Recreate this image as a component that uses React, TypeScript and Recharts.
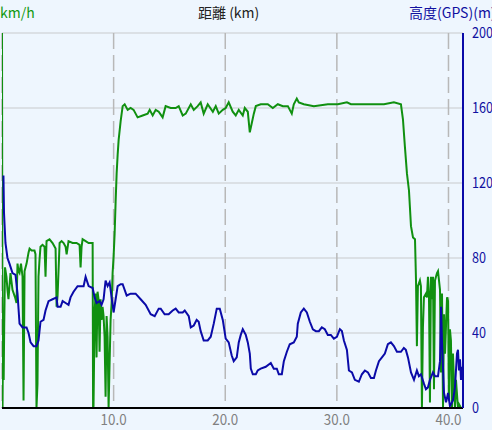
import { CartesianGrid, Line, LineChart, XAxis, YAxis } from 'recharts';

// distance (km) / speed (km/h)
const speedKm = [
  0.0, 0.05, 0.1, 0.15, 0.2, 0.27, 0.4, 0.49, 0.58, 0.76, 0.94, 1.17, 1.3, 1.39, 1.48, 1.57, 1.7, 1.84,
  1.93, 2.02, 2.2, 2.38, 2.47, 2.65, 2.91, 3.0, 3.09, 3.18, 3.27, 3.36, 3.45, 3.63, 3.81, 3.9, 3.99, 4.26,
  4.53, 4.8, 4.89, 4.98, 5.16, 5.34, 5.52, 5.7, 5.79, 5.96, 6.32, 6.68, 6.95, 7.04, 7.13, 7.22, 7.49, 7.76,
  8.12, 8.16, 8.2, 8.3, 8.39, 8.47, 8.56, 8.65, 8.74, 8.83, 8.92, 9.01, 9.1, 9.19, 9.28, 9.37, 9.46, 9.55,
  9.64, 9.73, 9.82, 9.91, 10.0, 10.09, 10.18, 10.27, 10.36, 10.45, 10.63, 10.81, 10.99, 11.26, 11.52, 11.79,
  12.15, 12.6, 13.05, 13.23, 13.5, 13.77, 14.04, 14.39, 14.66, 15.11, 15.56, 15.83, 16.19, 16.46, 16.91,
  17.18, 17.53, 17.8, 18.07, 18.43, 18.89, 19.15, 19.42, 19.78, 20.04, 20.31, 20.67, 20.94, 21.21, 21.57,
  21.75, 22.02, 22.2, 22.38, 22.56, 22.74, 23.18, 23.81, 24.26, 24.71, 25.16, 25.61, 25.96, 26.14, 26.41,
  26.59, 27.04, 27.94, 29.19, 30.09, 30.9, 31.26, 32.78, 34.22, 35.11, 35.74, 35.92, 36.1, 36.28, 36.46,
  36.64, 36.82, 37.0, 37.09, 37.17, 37.26, 37.44, 37.53, 37.62, 37.71, 37.8, 37.98, 38.07, 38.16, 38.25,
  38.34, 38.43, 38.52, 38.61, 38.7, 38.79, 38.97, 39.06, 39.15, 39.24, 39.33, 39.42, 39.51, 39.6, 39.69,
  39.87, 39.96, 40.04, 40.13, 40.22, 40.31, 40.4, 40.58, 40.67, 40.85, 40.94, 41.12,
];
const speed = [
  200, 0, 50, 15, 45, 75, 70, 63, 58, 72, 63, 59, 56, 77, 73, 72, 77, 70,
  4, 73, 77, 83, 85, 84, 84, 82, 0, 13, 70, 79, 86, 87, 86, 70, 89, 90,
  88, 85, 54, 60, 88, 89, 88, 86, 82, 89, 88, 88, 87, 75, 86, 90, 89, 88,
  88, 0, 1, 52, 61, 27, 62, 58, 30, 58, 47, 54, 49, 38, 6, 49, 38, 0,
  24, 47, 56, 72, 81, 93, 110, 125, 135, 143, 153, 161, 162, 159, 160, 159,
  155, 156, 157, 159, 156, 159, 158, 155, 161, 160, 160, 161, 156, 157, 162,
  159, 161, 163, 157, 162, 158, 161, 157, 159, 160, 163, 158, 156, 159, 156,
  160, 158, 147, 152, 157, 161, 162, 162, 160, 162, 161, 161, 157, 162, 165,
  163, 162, 161, 162, 162, 163, 162, 162, 162, 163, 162, 154, 139, 125, 116,
  97, 91, 90, 68, 33, 65, 68, 65, 0, 43, 59, 61, 59, 70, 61,
  3, 70, 58, 70, 10, 68, 72, 73, 68, 63, 19, 61, 0, 50, 29,
  59, 57, 4, 42, 36, 0, 29, 0, 15, 0, 2, 0,
];

// distance (km) / GPS altitude (m)
const altKm = [
  0.13, 0.18, 0.31, 0.49, 0.67, 0.94, 1.21, 1.39, 1.57, 1.84, 2.2, 2.38, 2.56, 2.83, 3.09, 3.27, 3.45, 3.72,
  3.9, 4.17, 4.53, 4.89, 4.98, 5.25, 5.43, 5.7, 5.96, 6.14, 6.41, 6.77, 7.04, 7.31, 7.49, 7.76, 8.12, 8.3,
  8.47, 8.74, 8.92, 9.1, 9.28, 9.46, 9.64, 9.82, 10.0, 10.18, 10.36, 10.63, 10.81, 11.17, 11.52, 11.97,
  12.42, 12.87, 13.32, 13.68, 14.04, 14.22, 14.57, 14.93, 15.29, 15.56, 15.83, 16.19, 16.37, 16.73, 16.91,
  17.18, 17.44, 17.62, 17.8, 18.07, 18.43, 18.7, 18.97, 19.24, 19.51, 19.78, 20.04, 20.31, 20.58, 20.76,
  21.03, 21.21, 21.39, 21.57, 21.84, 22.02, 22.2, 22.29, 22.47, 22.74, 22.91, 23.18, 23.63, 24.08, 24.35,
  24.62, 24.8, 25.07, 25.25, 25.52, 25.78, 26.14, 26.41, 26.5, 26.77, 27.04, 27.31, 27.58, 27.85, 28.12,
  28.39, 28.65, 28.92, 29.19, 29.46, 29.73, 30.0, 30.27, 30.45, 30.63, 30.9, 31.08, 31.35, 31.61, 31.97,
  32.24, 32.51, 32.78, 33.05, 33.32, 33.5, 33.77, 34.04, 34.3, 34.57, 34.84, 35.11, 35.38, 35.74, 36.0,
  36.18, 36.37, 36.64, 36.91, 37.17, 37.35, 37.53, 37.8, 37.98, 38.16, 38.34, 38.61, 38.79, 39.06, 39.24,
  39.33, 39.42, 39.6, 39.78, 39.96, 40.13, 40.4, 40.58, 40.76, 40.85, 40.94, 41.03, 41.12, 41.2,
];
const alt = [
  124, 104, 88, 80, 77, 72, 71, 61, 45, 43, 43, 40, 35, 33, 33, 36, 46, 47,
  52, 57, 58, 59, 54, 54, 57, 56, 55, 59, 62, 65, 65, 65, 70, 65, 64, 59,
  56, 57, 55, 58, 68, 65, 67, 59, 51, 58, 65, 66, 66, 60, 61, 61,
  58, 55, 50, 49, 53, 53, 50, 50, 52, 53, 51, 51, 52, 49, 43,
  44, 47, 46, 41, 36, 36, 38, 45, 53, 53, 47, 37, 35, 28, 25,
  27, 35, 39, 42, 39, 35, 29, 21, 18, 18, 20, 21, 22, 24, 21,
  21, 18, 18, 25, 30, 34, 35, 38, 45, 51, 53, 51, 46, 42, 41,
  41, 43, 42, 39, 39, 37, 38, 42, 41, 36, 31, 20, 19, 15, 14,
  18, 20, 19, 16, 16, 20, 25, 27, 29, 34, 35, 33, 30, 30, 32,
  31, 27, 19, 15, 20, 17, 18, 13, 10, 11, 15, 19, 17, 17, 25,
  54, 35, 8, 3, 8, 1, 4, 11, 29, 31, 20, 26, 15, 22,
];

const xTicks = [10, 20, 30, 40];
const yTicks = [0, 40, 80, 120, 160, 200];

const speedData = speedKm.map((km, i) => ({ km, speed: speed[i] }));
const altData = altKm.map((km, i) => ({ km, alt: alt[i] }));

const font = '"Noto Sans CJK JP", "DejaVu Sans", sans-serif';

// narrow, tall digits like the original bitmap font
function AltTick(props: any) {
  const { x, y, payload } = props;
  const label = String(payload.value);
  return (
    <text
      x={x + 3}
      y={y + 5}
      fill="#1010A0"
      fontSize={15}
      fontFamily={font}
      textLength={label.length * 7}
      lengthAdjust="spacingAndGlyphs"
    >
      {label}
    </text>
  );
}

function KmTick(props: any) {
  const { x, y, payload } = props;
  const label = Number(payload.value).toFixed(1);
  return (
    <text
      x={x - 13}
      y={y + 11}
      fill="#808080"
      fontSize={15}
      fontFamily={font}
      textLength={26}
      lengthAdjust="spacingAndGlyphs"
    >
      {label}
    </text>
  );
}

export default function App() {
  return (
    <div
      style={{
        position: 'absolute',
        left: 0,
        top: 0,
        width: 492,
        height: 430,
        overflow: 'hidden',
        background: '#EEF6FE',
        fontFamily: font,
      }}
    >
      <div style={{ position: 'absolute', left: 0, top: 2, fontSize: 14, lineHeight: '20px', color: '#119911' }}>km/h</div>
      <div style={{ position: 'absolute', left: 198, top: 2, fontSize: 14, lineHeight: '20px', color: '#222' }}>距離 (km)</div>
      <div
        style={{
          position: 'absolute',
          left: 409,
          top: 2,
          width: 83,
          overflow: 'hidden',
          fontSize: 14,
          lineHeight: '20px',
          color: '#1010A0',
          whiteSpace: 'nowrap',
        }}
      >
        高度(GPS)(m)
      </div>
      <LineChart width={492} height={430} margin={{ top: 33, right: 0, left: 2, bottom: 0 }}>
        <CartesianGrid yAxisId="alt" vertical={false} stroke="#D4D8DC" strokeWidth={1.5} />
        <CartesianGrid yAxisId="alt" horizontal={false} stroke="#B8B8B8" strokeWidth={1.5} strokeDasharray="16 6" />
        <XAxis
          type="number"
          dataKey="km"
          domain={[0, 41.3]}
          ticks={xTicks}
          allowDataOverflow
          height={22}
          tickLine={false}
          axisLine={{ stroke: '#000', strokeWidth: 2 }}
          tick={KmTick}
          tickMargin={0}
        />
        <YAxis yAxisId="speed" domain={[0, 200]} hide />
        <YAxis
          yAxisId="alt"
          orientation="right"
          domain={[0, 200]}
          ticks={yTicks}
          width={29}
          tickLine={false}
          tickMargin={0}
          axisLine={{ stroke: '#0A0AA8', strokeWidth: 2 }}
          tick={AltTick}
        />
        <Line
          yAxisId="speed"
          data={speedData}
          dataKey="speed"
          type="linear"
          stroke="#109010"
          strokeWidth={2}
          dot={false}
          isAnimationActive={false}
        />
        <Line
          yAxisId="alt"
          data={altData}
          dataKey="alt"
          type="linear"
          stroke="#0A0AA8"
          strokeWidth={2}
          dot={false}
          isAnimationActive={false}
        />
      </LineChart>
    </div>
  );
}
